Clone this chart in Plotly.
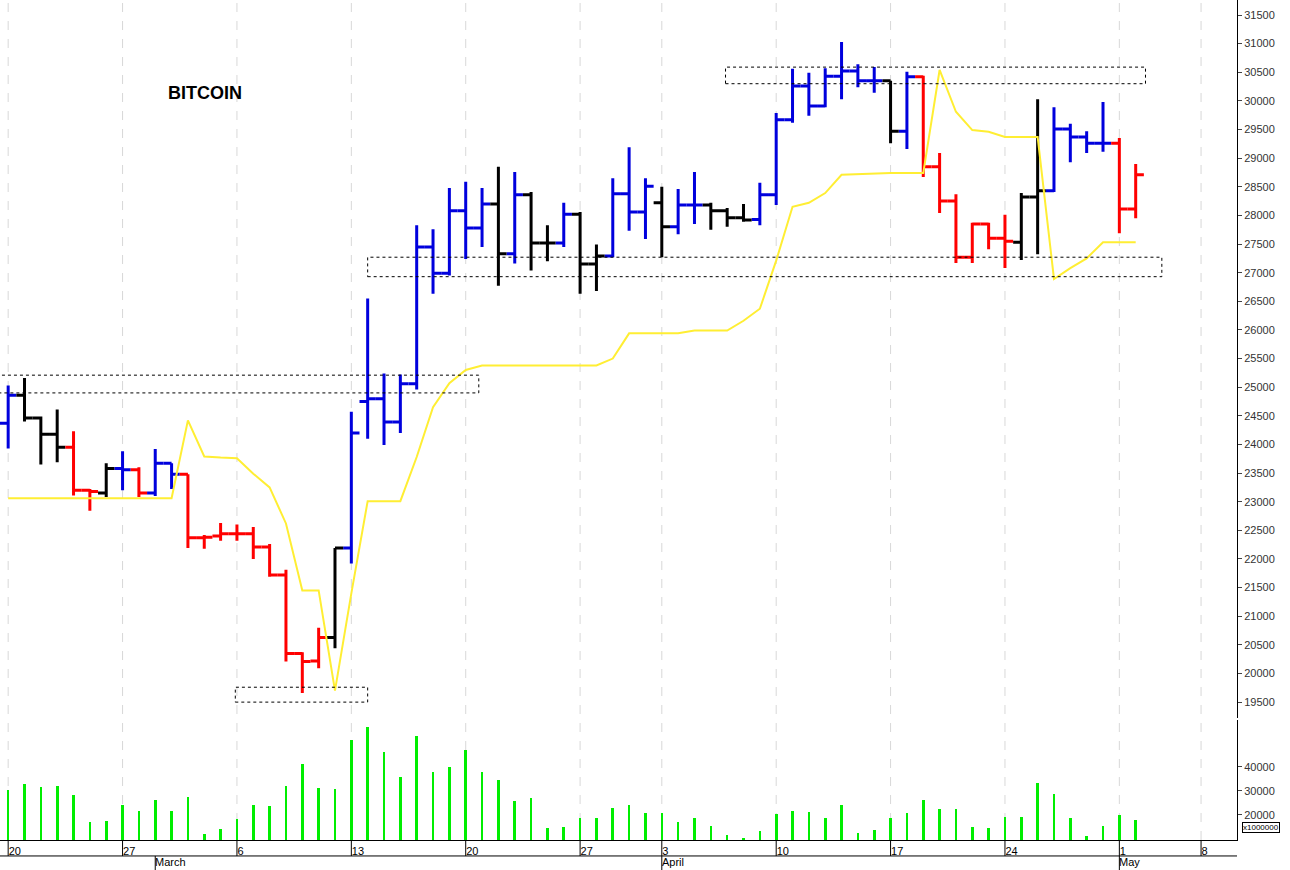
import plotly.graph_objects as go

# ---------------- data ----------------
opens = [24370,24860,24460,24180,23950,23200,23150,23580,23560,23150,
         23670,23480,22370,22400,22440,22440,22210,21720,20350,20220,
         20630,22190,24750,24800,24390,25060,27450,26990,28080,27780,
         28200,27330,28360,27520,27520,28020,27150,27290,28380,28060,
         28220,27800,28180,28180,28080,27960,27930,28360,29670,30260,
         29910,30430,30520,30350,30350,29470,30420,28850,28250,27270,
         27850,27600,27530,28320,28430,29510,29370,29260,29260,28110]
highs = [25030,25160,24490,24610,24230,23220,23670,23880,23600,23920,
         23670,23480,22420,22630,22600,22560,22260,21810,20370,20800,
         22190,24570,26550,25240,25220,27830,27760,28480,28590,28480,
         28850,28760,28410,27830,28220,28060,27490,28650,29190,28650,
         28500,28460,28760,28220,28130,28200,28570,29790,30560,30490,
         30570,31030,30640,30590,30350,30510,30440,29090,28370,27870,
         27870,28010,28390,30030,29890,29600,29470,29980,29350,28900]
lows = [23930,24400,23650,23690,23110,22840,23080,23200,23080,23100,
        23220,22190,22180,22320,22320,22000,21690,20210,19660,20090,
        20440,21920,24100,23990,24200,24960,26630,26950,27240,27450,
        26770,27160,27040,27200,27450,26630,26680,27270,27730,27590,
        27270,27670,27850,27750,27800,27890,27830,28180,29620,29740,
        29890,30030,30240,30140,29260,29160,28670,28040,27170,27170,
        27410,27080,27220,27320,28410,28930,29090,29110,27690,27950]
closes = [24860,24460,24180,23950,23200,23180,23580,23560,23150,23670,
          23480,22370,22380,22440,22440,22210,21720,20350,20210,20630,
          22190,24200,24800,24390,25060,27450,26990,28080,27780,28200,
          27330,28360,27520,27520,28020,27150,27290,28380,28060,28510,
          27800,28180,28180,28080,27960,27920,28360,29670,30260,29910,
          30430,30520,30350,30350,29470,30420,28850,28250,27270,27850,
          27600,27550,28320,28430,29510,29370,29260,29260,28110,28710]
bar_colors = (["blue"] + ["black"] * 3 + ["red"] * 2 + ["black", "blue", "red", "blue", "blue"]
              + ["red"] * 9 + ["black"] + ["blue"] * 9 + ["black", "blue", "black", "black", "blue",
              "black", "black", "blue", "blue", "blue", "black", "blue", "blue", "black", "black",
              "black"] + ["blue"] * 8 + ["black", "blue"] + ["red"] * 6 + ["black", "black"]
              + ["blue"] * 4 + ["red", "red"])
signal = [23060]*11 + [24420,23790,23770,23760,23490,23250,22620,21450,21450,
          19700,21400,23010,23010,23010,23780,24650,25070,25300,25380,
          25380,25380,25380,25380,25380,25380,25380,25500,25940,25940,
          25940,25940,25990,25990,25990,26160,26370,27210,28150,28220,
          28390,28710,28720,28740,28740,28740,28740,30540,29810,29490,
          29460,29370,29370,29370,26890,27080,27250,27530,27530,27530]
volume = [30400,32900,31700,32100,28300,17100,17500,24200,21700,26200,
          21700,27500,12100,14200,18300,24200,23800,32100,41200,31200,
          30800,51200,56700,46200,35800,52900,37900,40000,47100,37900,
          34600,25800,27100,14600,15000,18800,18800,22900,24200,20800,
          20800,17100,18800,15400,11700,10400,13300,20400,21700,21200,
          18800,24200,12500,13800,18800,20800,26200,22500,22500,15000,
          14600,19200,19200,33300,28800,18800,11300,15400,20000,17900]

tick_pos = [0, 7, 14, 21, 28, 35, 40, 47, 54, 61, 68, 73]
tick_text = ["20", "27", "6", "13", "20", "27", "3", "10", "17", "24", "1", "8"]
month_pos = [9, 40, 68]
month_text = ["March", "April", "May"]
zones = [(-0.6, 28.8, 24900, 25210), (13.9, 22.0, 19500, 19760),
         (22.0, 70.6, 26930, 27270), (43.9, 69.6, 30300, 30590)]

idx = list(range(len(opens)))
cmap = {"blue": "#0000dd", "black": "#000000", "red": "#ff0000"}

fig = go.Figure()
for cname, col in cmap.items():
    sel = [i for i in idx if bar_colors[i] == cname]
    fig.add_trace(go.Ohlc(
        x=sel, open=[opens[i] for i in sel], high=[highs[i] for i in sel],
        low=[lows[i] for i in sel], close=[closes[i] for i in sel],
        increasing=dict(line=dict(color=col, width=3)),
        decreasing=dict(line=dict(color=col, width=3)),
        tickwidth=0.5, xaxis="x", yaxis="y", showlegend=False, hoverinfo="skip"))

fig.add_trace(go.Scatter(x=idx, y=signal, mode="lines",
                         line=dict(color="#ffee33", width=2), showlegend=False))
fig.add_trace(go.Bar(x=idx, y=[v - 9583 for v in volume], base=9583, width=0.16,
                     marker=dict(color="#00ee00", line=dict(width=0)),
                     xaxis="x", yaxis="y2", showlegend=False))

for (x0, x1, y0, y1) in zones:
    fig.add_shape(type="rect", x0=x0, x1=x1, y0=y0, y1=y1, xref="x", yref="y",
                  line=dict(color="black", width=1, dash="dot"))
for p in tick_pos:
    fig.add_shape(type="line", x0=p, x1=p, y0=0, y1=1, xref="x", yref="paper",
                  line=dict(color="#d8d8d8", width=1, dash="dash"), layer="below")
    fig.add_shape(type="line", x0=p, x1=p, y0=0, y1=-0.019, xref="x", yref="paper",
                  line=dict(color="black", width=1))
for p, t in zip(month_pos, month_text):
    fig.add_shape(type="line", x0=p, x1=p, y0=-0.019, y1=-0.036, xref="x", yref="paper",
                  line=dict(color="black", width=1))
    fig.add_annotation(x=p, y=-0.019, xref="x", yref="paper", text=t, showarrow=False,
                       xanchor="left", yanchor="top", xshift=-2, yshift=2,
                       font=dict(family="Arial", size=11, color="black"))
fig.add_shape(type="line", x0=0, x1=1, y0=-0.019, y1=-0.019, xref="paper", yref="paper",
              line=dict(color="black", width=1))

fig.add_annotation(x=0.134, y=0.889, xref="paper", yref="paper", text="<b>BITCOIN</b>",
                   showarrow=False, xanchor="left", yanchor="middle",
                   font=dict(family="Arial", size=18, color="black"))
fig.add_annotation(x=1.004, y=0.008, xref="paper", yref="paper", text="x1000000",
                   showarrow=False, xanchor="left", bordercolor="black", borderwidth=1, borderpad=0,
                   font=dict(family="Arial", size=8, color="black"))

fig.update_layout(
    width=1290, height=870, margin=dict(l=0, r=53, t=0, b=30, autoexpand=False),
    paper_bgcolor="white", plot_bgcolor="white", bargap=0,
    xaxis=dict(range=[-0.5, 75.2], anchor="y2", tickvals=tick_pos, ticktext=tick_text, ticks="",
               showgrid=False, zeroline=False, rangeslider=dict(visible=False), automargin=False,
               showline=True, linecolor="black", ticklabelposition="outside right",
               tickfont=dict(family="Arial", size=11, color="black"), ticklabelstandoff=1),
    yaxis=dict(domain=[0.145, 1], range=[19219, 31762], side="right", dtick=500, tick0=19500,
               tickformat="d", showgrid=False, zeroline=False, showline=True, linecolor="black",
               ticks="outside", ticklen=4, tickcolor="#444", automargin=False,
               tickfont=dict(family="Arial", size=11, color="#333")),
    yaxis2=dict(domain=[0, 0.143], range=[9583, 59580], side="right", tickformat="d",
                tickvals=[20000, 30000, 40000], showgrid=False, zeroline=False, automargin=False,
                showline=True, linecolor="black", ticks="outside", ticklen=4, tickcolor="#444",
                tickfont=dict(family="Arial", size=11, color="#333")),
)
fig.write_html("out.html", config={"displayModeBar": False},
               post_script="document.body.style.margin='0';document.body.style.overflow='hidden';")
